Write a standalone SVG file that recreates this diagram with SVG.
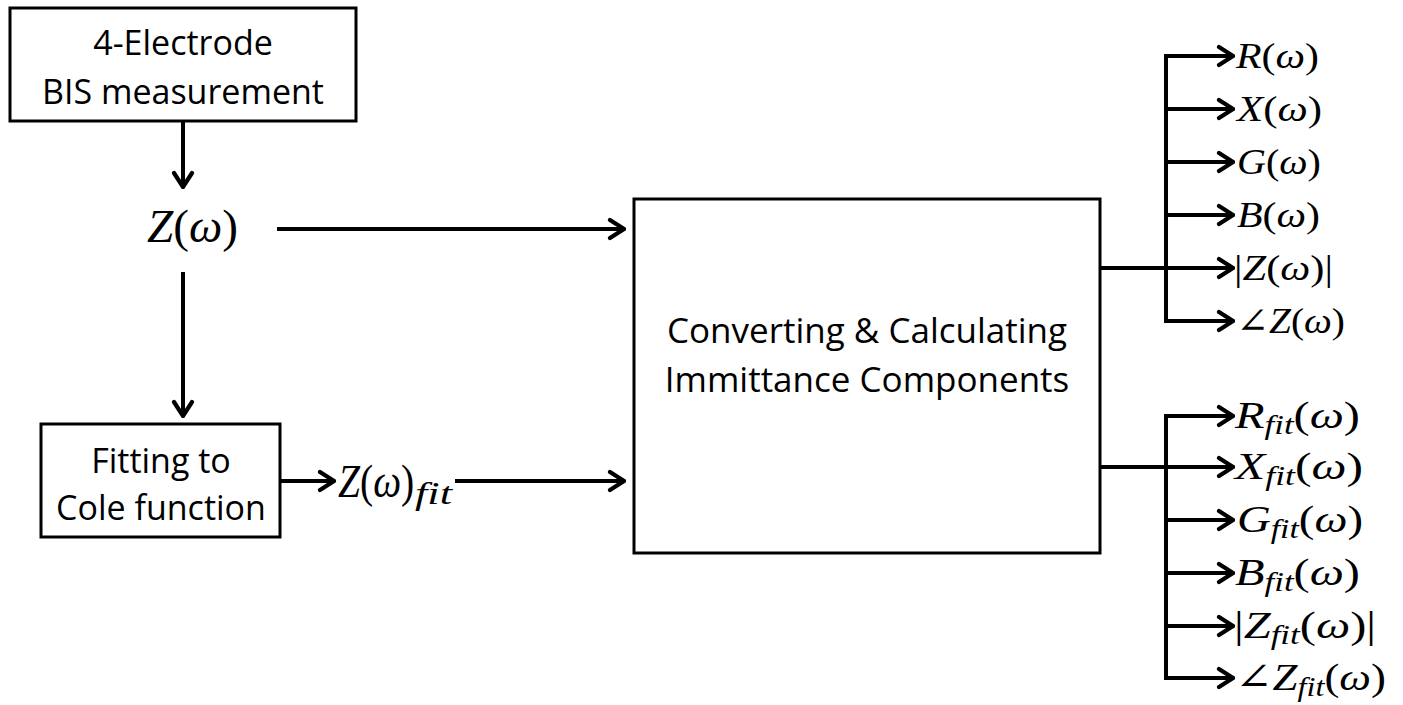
<svg xmlns="http://www.w3.org/2000/svg" width="1403" height="705" viewBox="0 0 1403 705">
  <style>
    .box { fill: #fff; stroke: #000; stroke-width: 3; }
    .lbl { font-family: "Open Sans", "Liberation Sans", sans-serif; font-size: 34px; fill: #000; text-anchor: middle; }
    .big { font-size: 35px; }
    .math { font-family: "Liberation Serif", "DejaVu Serif", serif; fill: #000; }
    .it { font-style: italic; }
    .sub { font-style: italic; font-size: 72%; }
    .wire { fill: none; stroke: #000; stroke-width: 4; }
  </style>
  <defs>
    <marker id="ah" markerUnits="userSpaceOnUse" viewBox="-18 -12 20 24" markerWidth="20" markerHeight="24" refX="0" refY="0" orient="auto">
      <path d="M-14,-9 L0,0 L-14,9" fill="none" stroke="#000" stroke-width="4.2" stroke-linecap="round" stroke-linejoin="miter"/>
    </marker>
  </defs>

  <!-- connectors -->
  <g id="connectors" class="wire">
    <line x1="183" y1="121" x2="183" y2="187" marker-end="url(#ah)"/>
    <line x1="183" y1="272" x2="183" y2="416" marker-end="url(#ah)"/>
    <line x1="277" y1="229" x2="624" y2="229" marker-end="url(#ah)"/>
    <line x1="280" y1="481" x2="334" y2="481" marker-end="url(#ah)"/>
    <line x1="455" y1="481" x2="624" y2="481" marker-end="url(#ah)"/>

    <!-- direct outputs -->
    <line x1="1100" y1="268" x2="1233" y2="268" marker-end="url(#ah)"/>
    <path d="M1233,56 H1166 V321 H1233" marker-end="url(#ah)"/>
    <line x1="1166" y1="56" x2="1233" y2="56" marker-end="url(#ah)"/>
    <line x1="1166" y1="109" x2="1233" y2="109" marker-end="url(#ah)"/>
    <line x1="1166" y1="162" x2="1233" y2="162" marker-end="url(#ah)"/>
    <line x1="1166" y1="215" x2="1233" y2="215" marker-end="url(#ah)"/>

    <!-- fitted outputs -->
    <line x1="1100" y1="467" x2="1233" y2="467" marker-end="url(#ah)"/>
    <path d="M1233,416 H1166 V678 H1233" marker-end="url(#ah)"/>
    <line x1="1166" y1="416" x2="1233" y2="416" marker-end="url(#ah)"/>
    <line x1="1166" y1="520" x2="1233" y2="520" marker-end="url(#ah)"/>
    <line x1="1166" y1="573" x2="1233" y2="573" marker-end="url(#ah)"/>
    <line x1="1166" y1="626" x2="1233" y2="626" marker-end="url(#ah)"/>
  </g>

  <!-- processing blocks -->
  <g id="measurement">
    <rect class="box" x="10" y="8" width="346" height="113"/>
    <text class="lbl" x="183" y="55">4-Electrode</text>
    <text class="lbl" x="183" y="104">BIS measurement</text>
  </g>

  <g id="fitting">
    <rect class="box" x="41" y="424" width="239" height="113"/>
    <text class="lbl" x="161" y="473">Fitting to</text>
    <text class="lbl" x="161" y="520">Cole function</text>
  </g>

  <g id="converter">
    <rect class="box" x="634" y="199" width="466" height="354"/>
    <text class="lbl big" x="867" y="343">Converting &amp; Calculating</text>
    <text class="lbl big" x="867" y="392">Immittance Components</text>
  </g>

  <!-- signals -->
  <g id="z-measured">
    <text class="math" x="147" y="242" font-size="46" textLength="91" lengthAdjust="spacingAndGlyphs"><tspan class="it">Z</tspan>(<tspan class="it">ω</tspan>)</text>
  </g>

  <g id="z-fitted">
    <text class="math" font-size="46" transform="translate(338,497) scale(0.86,1)"><tspan class="it">Z</tspan>(<tspan class="it">ω</tspan>)</text>
    <text class="math it" x="415" y="504" font-size="31" textLength="37" lengthAdjust="spacingAndGlyphs">fit</text>
  </g>

  <g id="outputs-direct" class="math" font-size="36">
    <text x="1236" y="68" textLength="83" lengthAdjust="spacingAndGlyphs"><tspan class="it">R</tspan>(<tspan class="it">ω</tspan>)</text>
    <text x="1237" y="121" textLength="85" lengthAdjust="spacingAndGlyphs"><tspan class="it">X</tspan>(<tspan class="it">ω</tspan>)</text>
    <text x="1237" y="174" textLength="84" lengthAdjust="spacingAndGlyphs"><tspan class="it">G</tspan>(<tspan class="it">ω</tspan>)</text>
    <text x="1237" y="227" textLength="83" lengthAdjust="spacingAndGlyphs"><tspan class="it">B</tspan>(<tspan class="it">ω</tspan>)</text>
    <text x="1234" y="280" textLength="99" lengthAdjust="spacingAndGlyphs">|<tspan class="it">Z</tspan>(<tspan class="it">ω</tspan>)|</text>
    <text x="1236" y="333" textLength="109" lengthAdjust="spacingAndGlyphs">∠<tspan class="it">Z</tspan>(<tspan class="it">ω</tspan>)</text>
  </g>

  <g id="outputs-fitted" class="math" font-size="38">
    <text x="1235" y="428" textLength="125" lengthAdjust="spacingAndGlyphs"><tspan class="it">R</tspan><tspan class="sub" dy="6">fit</tspan><tspan dy="-6">(</tspan><tspan class="it">ω</tspan>)</text>
    <text x="1235" y="479" textLength="128" lengthAdjust="spacingAndGlyphs"><tspan class="it">X</tspan><tspan class="sub" dy="6">fit</tspan><tspan dy="-6">(</tspan><tspan class="it">ω</tspan>)</text>
    <text x="1237" y="532" textLength="126" lengthAdjust="spacingAndGlyphs"><tspan class="it">G</tspan><tspan class="sub" dy="6">fit</tspan><tspan dy="-6">(</tspan><tspan class="it">ω</tspan>)</text>
    <text x="1235" y="585" textLength="125" lengthAdjust="spacingAndGlyphs"><tspan class="it">B</tspan><tspan class="sub" dy="6">fit</tspan><tspan dy="-6">(</tspan><tspan class="it">ω</tspan>)</text>
    <text x="1234" y="638" textLength="142" lengthAdjust="spacingAndGlyphs">|<tspan class="it">Z</tspan><tspan class="sub" dy="6">fit</tspan><tspan dy="-6">(</tspan><tspan class="it">ω</tspan>)|</text>
    <text x="1235" y="690" textLength="151" lengthAdjust="spacingAndGlyphs">∠<tspan class="it">Z</tspan><tspan class="sub" dy="6">fit</tspan><tspan dy="-6">(</tspan><tspan class="it">ω</tspan>)</text>
  </g>
</svg>
